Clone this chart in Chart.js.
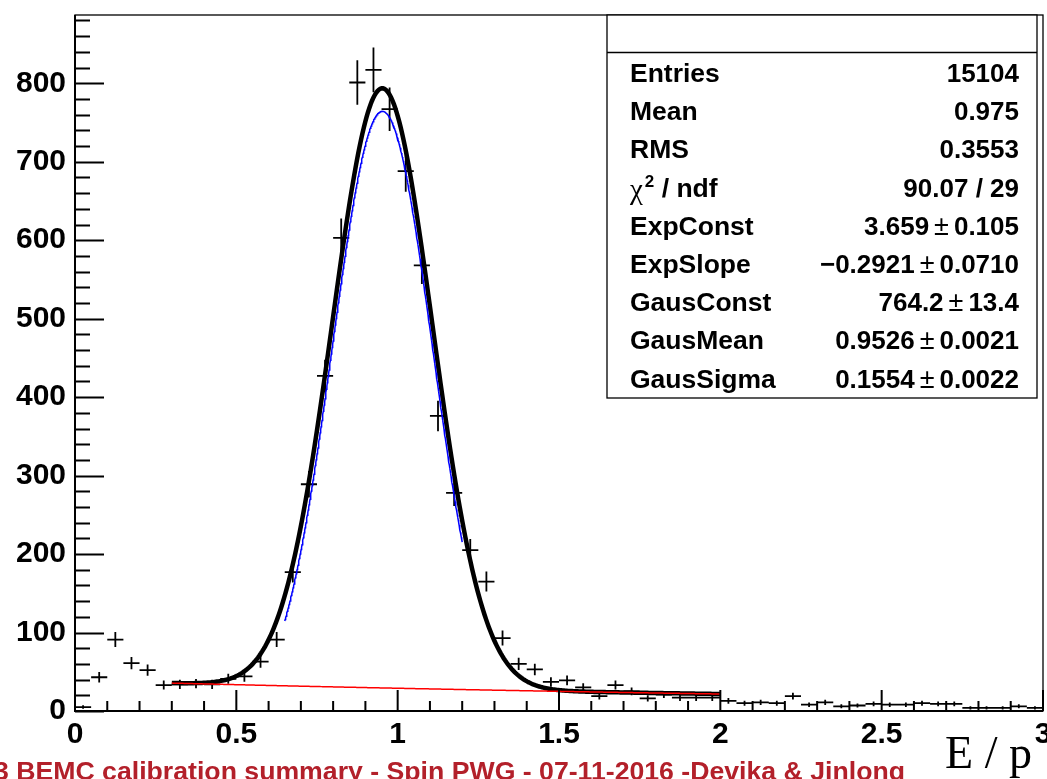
<!DOCTYPE html>
<html>
<head>
    <script src="https://cdn.jsdelivr.net/npm/chart.js"></script>
    <style>
        html, body {
            margin: 0;
            padding: 0;
            background: #ffffff;
        }
        .chart-container {
            width: 1047px;
            height: 779px;
        }
    </style>
</head>
<body>
    <div class="chart-container">
        <canvas id="eopChart"></canvas>
    </div>

    <script>
        // histogram: bin centres (bin width 0.05) and counts
        const binCenters = [
            0.025, 0.075, 0.125, 0.175, 0.225, 0.275, 0.325, 0.375, 0.425, 0.475,
            0.525, 0.575, 0.625, 0.675, 0.725, 0.775, 0.825, 0.875, 0.925, 0.975,
            1.025, 1.075, 1.125, 1.175, 1.225, 1.275, 1.325, 1.375, 1.425, 1.475,
            1.525, 1.575, 1.625, 1.675, 1.725, 1.775, 1.825, 1.875, 1.925, 1.975,
            2.025, 2.075, 2.125, 2.175, 2.225, 2.275, 2.325, 2.375, 2.425, 2.475,
            2.525, 2.575, 2.625, 2.675, 2.725, 2.775, 2.825, 2.875, 2.925, 2.975
        ];
        const counts = [
            5, 43, 91, 61, 52, 33, 34, 35, 34, 41,
            44, 63, 91, 177, 289, 427, 603, 801, 817, 767,
            688, 568, 376, 278, 205, 165, 93, 60, 53, 37,
            39, 30, 19, 33, 25, 16, 21, 17, 17, 17,
            13, 10, 11, 10, 19, 8, 11, 6, 7, 9,
            8, 8, 10, 9, 9, 4, 4, 4, 6, 4
        ];
        const binHalfWidth = 0.025;

        // fit parameters as printed in the stats box
        const expConst = 3.659;
        const expSlope = -0.2921;
        const gausConst = 764.2;
        const gausMean = 0.9526;
        const gausSigma = 0.1554;
        const fitRange = [0.3, 2.0];
        const gausRange = [0.65, 1.2];

        const xTickLabels = [0, 0.5, 1, 1.5, 2, 2.5, 3];
        const yTickLabels = [0, 100, 200, 300, 400, 500, 600, 700, 800];

        const statLabels = ['Entries', 'Mean', 'RMS', 'chi2', 'ExpConst', 'ExpSlope', 'GausConst', 'GausMean', 'GausSigma'];
        const statValues = ['15104', '0.975', '0.3553', '90.07 / 29', '3.659 ± 0.105', '\u22120.2921 ± 0.0710',
                            '764.2 ± 13.4', '0.9526 ± 0.0021', '0.1554 ± 0.0022'];

        const footerText = '3 BEMC calibration summary - Spin PWG - 07-11-2016 -Devika & Jinlong';

        const expPart = x => Math.exp(expConst + expSlope * x);
        const gausPart = x => gausConst * Math.exp(-0.5 * Math.pow((x - gausMean) / gausSigma, 2));

        function sample(f, x0, x1) {
            const pts = [];
            const n = 400;
            for (let i = 0; i <= n; i++) {
                const xv = x0 + (x1 - x0) * i / n;
                pts.push({ x: xv, y: f(xv) });
            }
            return pts;
        }

        const BOLD = "'Liberation Sans', Arial, Helvetica, sans-serif";

        const rootStyle = {
            id: 'rootStyle',
            beforeDatasetsDraw(chart) {
                const { ctx, scales: { x, y } } = chart;
                ctx.save();
                ctx.strokeStyle = '#000';
                ctx.lineWidth = 1.8;
                ctx.beginPath();
                binCenters.forEach((c, i) => {
                    const n = counts[i];
                    const err = Math.sqrt(n);
                    const px = x.getPixelForValue(c);
                    const py = y.getPixelForValue(n);
                    ctx.moveTo(x.getPixelForValue(c - binHalfWidth), py);
                    ctx.lineTo(x.getPixelForValue(c + binHalfWidth), py);
                    ctx.moveTo(px, y.getPixelForValue(Math.max(0, n - err)));
                    ctx.lineTo(px, y.getPixelForValue(n + err));
                });
                ctx.stroke();
                ctx.restore();
            },
            afterDatasetsDraw(chart) {
                const { ctx, chartArea: a, scales: { x, y } } = chart;
                ctx.save();
                ctx.strokeStyle = '#000';
                // frame
                ctx.lineWidth = 1.3;
                ctx.strokeRect(a.left, a.top, a.right - a.left, a.bottom - a.top);
                // axes
                ctx.lineWidth = 2;
                ctx.beginPath();
                ctx.moveTo(a.left, a.top);
                ctx.lineTo(a.left, a.bottom);
                ctx.lineTo(a.right, a.bottom);
                // inward ticks, y
                for (let v = 0; v <= 880; v += 20) {
                    const py = Math.round(y.getPixelForValue(v)) + 0.5;
                    const len = v % 100 === 0 ? 29 : 15;
                    ctx.moveTo(a.left, py);
                    ctx.lineTo(a.left + len, py);
                }
                // inward ticks, x
                for (let k = 0; k <= 30; k++) {
                    const px = x.getPixelForValue(k / 10);
                    const len = k % 5 === 0 ? 21 : 10;
                    ctx.moveTo(px, a.bottom);
                    ctx.lineTo(px, a.bottom - len);
                }
                ctx.stroke();
                ctx.restore();
            },
            afterDraw(chart) {
                const { ctx } = chart;
                ctx.save();
                // stats box
                const bx0 = 607, by0 = 15, bx1 = 1037, by1 = 398;
                ctx.fillStyle = '#fff';
                ctx.fillRect(bx0, by0, bx1 - bx0, by1 - by0);
                ctx.strokeStyle = '#000';
                ctx.lineWidth = 1.3;
                ctx.strokeRect(bx0, by0, bx1 - bx0, by1 - by0);
                ctx.beginPath();
                ctx.moveTo(bx0, 52.5);
                ctx.lineTo(bx1, 52.5);
                ctx.stroke();

                const labFont = 'bold 26.5px ' + BOLD;
                ctx.fillStyle = '#000';
                ctx.textBaseline = 'alphabetic';
                statLabels.forEach((lab, i) => {
                    const base = 82 + 38.2 * i;
                    ctx.textAlign = 'left';
                    if (lab === 'chi2') {
                        ctx.font = "29px 'Liberation Serif', 'Times New Roman', serif";
                        ctx.fillText('\u03c7', 630, base + 2);
                        let w = ctx.measureText('\u03c7').width;
                        ctx.font = 'bold 17px ' + BOLD;
                        ctx.fillText('2', 630 + w + 2, base - 10);
                        w += ctx.measureText('2').width + 2;
                        ctx.font = labFont;
                        ctx.fillText(' / ndf', 630 + w, base);
                    } else {
                        ctx.font = labFont;
                        ctx.fillText(lab, 630, base);
                    }
                    // value, right aligned; the ± is drawn lighter
                    const parts = statValues[i].split(' ± ');
                    const right = 1019;
                    ctx.font = 'bold 26px ' + BOLD;
                    if (parts.length === 1) {
                        ctx.textAlign = 'right';
                        ctx.fillText(parts[0], right, base);
                    } else {
                        const w1 = ctx.measureText(parts[0]).width;
                        const w3 = ctx.measureText(parts[1]).width;
                        ctx.font = '27px ' + BOLD;
                        const w2 = ctx.measureText('±').width;
                        const gap = 5;
                        let cx = right - w3 - gap - w2 - gap - w1;
                        ctx.font = 'bold 26px ' + BOLD;
                        ctx.fillText(parts[0], cx, base);
                        cx += w1 + gap;
                        ctx.font = '27px ' + BOLD;
                        ctx.fillText('±', cx, base);
                        cx += w2 + gap;
                        ctx.font = 'bold 26px ' + BOLD;
                        ctx.fillText(parts[1], cx, base);
                    }
                });

                // axis title
                ctx.font = "46px 'Liberation Serif', 'Times New Roman', serif";
                ctx.textAlign = 'right';
                ctx.fillText('E / p', 1032, 768);

                // footer, stretched to the width it has in the original
                ctx.font = 'bold 26px ' + BOLD;
                ctx.textAlign = 'left';
                ctx.fillStyle = '#b3202a';
                const fw = ctx.measureText(footerText).width;
                const sx = 911 / fw;
                ctx.translate(-6, 780);
                ctx.scale(sx, 1);
                ctx.fillText(footerText, 0, 0);
                ctx.restore();
            }
        };

        document.addEventListener('DOMContentLoaded', function () {
            const ctx = document.getElementById('eopChart').getContext('2d');
            new Chart(ctx, {
                type: 'scatter',
                data: {
                    datasets: [
                        {
                            label: 'Gaus',
                            type: 'line',
                            data: sample(gausPart, gausRange[0], gausRange[1]),
                            borderColor: '#0000ff',
                            borderWidth: 1.5,
                            pointRadius: 0,
                            tension: 0,
                            fill: false
                        },
                        {
                            label: 'Exp',
                            type: 'line',
                            data: sample(expPart, fitRange[0], fitRange[1]),
                            borderColor: '#ff0000',
                            borderWidth: 1.5,
                            pointRadius: 0,
                            tension: 0,
                            fill: false
                        },
                        {
                            label: 'Total fit',
                            type: 'line',
                            data: sample(x => expPart(x) + gausPart(x), fitRange[0], fitRange[1]),
                            borderColor: '#000000',
                            borderWidth: 4.5,
                            pointRadius: 0,
                            tension: 0,
                            fill: false
                        },
                        {
                            label: 'E/p',
                            data: binCenters.map((c, i) => ({ x: c, y: counts[i] })),
                            pointRadius: 0,
                            showLine: false
                        }
                    ]
                },
                options: {
                    responsive: true,
                    maintainAspectRatio: false,
                    animation: false,
                    events: [],
                    layout: { padding: { top: 15, right: 4, left: 0, bottom: 0 } },
                    plugins: {
                        legend: { display: false },
                        tooltip: { enabled: false }
                    },
                    scales: {
                        x: {
                            type: 'linear',
                            min: 0,
                            max: 3,
                            afterBuildTicks: s => { s.ticks = xTickLabels.map(v => ({ value: v })); },
                            ticks: {
                                font: { family: BOLD, size: 30, weight: 'bold' },
                                color: '#000',
                                padding: 6,
                                maxRotation: 0,
                                autoSkip: false,
                                callback: v => String(v)
                            },
                            grid: { display: false, drawTicks: false },
                            border: { display: false },
                            afterFit: s => { s.height = 68; s.paddingLeft = 0; s.paddingRight = 0; }
                        },
                        y: {
                            type: 'linear',
                            min: 0,
                            max: 887,
                            afterBuildTicks: s => { s.ticks = yTickLabels.map(v => ({ value: v })); },
                            ticks: {
                                font: { family: BOLD, size: 30, weight: 'bold' },
                                color: '#000',
                                padding: 9,
                                callback: v => String(v)
                            },
                            grid: { display: false, drawTicks: false },
                            border: { display: false },
                            afterFit: s => { s.width = 75; s.paddingTop = 0; s.paddingBottom = 0; }
                        }
                    }
                },
                plugins: [rootStyle]
            });
        });
    </script>
</body>
</html>
